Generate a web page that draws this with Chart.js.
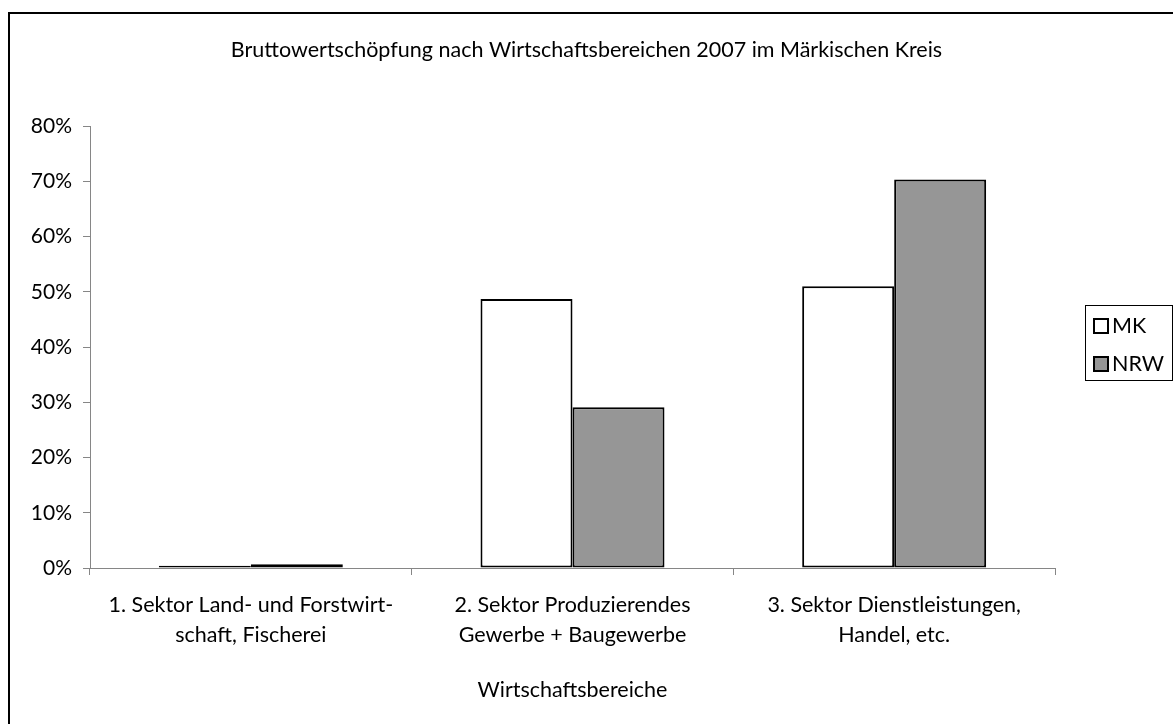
<!DOCTYPE html>
<html>
<head>
<meta charset="utf-8">
<script src="https://cdn.jsdelivr.net/npm/chart.js@4"></script>
<style>
    html, body { margin: 0; padding: 0; background: #fff; }
    #wrap { width: 1173px; height: 724px; position: relative; }
</style>
</head>
<body>
<div id="wrap"><canvas id="myChart" width="1173" height="724"></canvas></div>
<script>
// Werte (Anteil an der Bruttowertschöpfung in %)
const chartTitle = "Bruttowertschöpfung nach Wirtschaftsbereichen 2007 im Märkischen Kreis";
const categories = [
    ["1. Sektor Land- und Forstwirt-", "schaft, Fischerei"],
    ["2. Sektor Produzierendes", "Gewerbe + Baugewerbe"],
    ["3. Sektor Dienstleistungen,", "Handel, etc."],
];
const seriesNames = ["MK", "NRW"];
const valuesMK = [0.4, 48.7, 51.0];
const valuesNRW = [0.7, 29.1, 70.3];
const yTicks = [0, 10, 20, 30, 40, 50, 60, 70, 80];

const FONT = "Lato, 'Open Sans', sans-serif";
const FSIZE = 21.5;

// Rahmen, weisser Hintergrund und Titel (mittig ueber der ganzen Flaeche)
const framePlugin = {
    id: "frame",
    beforeDraw(chart) {
        const ctx = chart.ctx;
        ctx.save();
        ctx.fillStyle = "#fff";
        ctx.fillRect(0, 0, chart.width, chart.height);
        ctx.strokeStyle = "#000";
        ctx.lineWidth = 2;
        ctx.strokeRect(9, 13, chart.width + 20, chart.height + 20);
        ctx.fillStyle = "#000";
        ctx.font = FSIZE + "px " + FONT;
        ctx.textAlign = "center";
        ctx.textBaseline = "middle";
        ctx.fillText(chartTitle, chart.width / 2, 50);
        ctx.restore();
    },
};

// Legende rechts (Kasten wie im Original)
const legendPlugin = {
    id: "boxLegend",
    afterDraw(chart) {
        const ctx = chart.ctx;
        ctx.save();
        ctx.strokeStyle = "#000";
        ctx.lineWidth = 1;
        ctx.strokeRect(1085.5, 305.5, 87, 75);
        ctx.font = FSIZE + "px " + FONT;
        ctx.textBaseline = "middle";
        chart.data.datasets.forEach((ds, i) => {
            const cy = 326 + i * 38;
            ctx.fillStyle = ds.backgroundColor;
            ctx.fillRect(1094, cy - 7, 14, 14);
            ctx.lineWidth = 2;
            ctx.strokeRect(1094, cy - 7, 14, 14);
            ctx.fillStyle = "#000";
            ctx.fillText(ds.label, 1112, cy);
        });
        ctx.restore();
    },
};

const ctx = document.getElementById("myChart").getContext("2d");
const myChart = new Chart(ctx, {
    type: "bar",
    data: {
        labels: categories,
        datasets: [
            {
                label: seriesNames[0],
                data: valuesMK,
                backgroundColor: "#ffffff",
                borderColor: "#000000",
                borderWidth: 2,
                borderSkipped: false,
            },
            {
                label: seriesNames[1],
                data: valuesNRW,
                backgroundColor: "#969696",
                borderColor: "#000000",
                borderWidth: 2,
                borderSkipped: false,
            },
        ],
    },
    options: {
        responsive: false,
        animation: false,
        devicePixelRatio: 1,
        layout: { padding: { left: 0, right: 118, top: 126, bottom: 0 } },
        categoryPercentage: 0.572,
        barPercentage: 1.0,
        plugins: {
            legend: { display: false },
            tooltip: { enabled: false },
            title: { display: false },
        },
        scales: {
            x: {
                grid: {
                    offset: true,
                    drawOnChartArea: false,
                    drawTicks: true,
                    tickLength: 7,
                    color: "#868686",
                },
                border: { color: "#868686", width: 1 },
                ticks: {
                    color: "#000",
                    padding: 15,
                    maxRotation: 0,
                    autoSkip: false,
                    font: { family: FONT, size: FSIZE, lineHeight: 1.4 },
                },
                title: {
                    display: true,
                    text: "Wirtschaftsbereiche",
                    color: "#000",
                    font: { family: FONT, size: FSIZE, lineHeight: 1.2 },
                    padding: { top: 0, bottom: 21 },
                },
                afterFit(scale) {
                    scale.height = 156;
                },
            },
            y: {
                min: 0,
                max: 80,
                afterBuildTicks(scale) {
                    scale.ticks = yTicks.map((v) => ({ value: v }));
                },
                grid: {
                    drawOnChartArea: false,
                    drawTicks: true,
                    tickLength: 7,
                    color: "#868686",
                },
                border: { color: "#868686", width: 1 },
                ticks: {
                    color: "#000",
                    padding: 11,
                    font: { family: FONT, size: 21 },
                    callback: (v) => v + "%",
                },
                afterFit(scale) {
                    scale.width = 90;
                },
            },
        },
    },
    plugins: [framePlugin, legendPlugin],
});
</script>
</body>
</html>
